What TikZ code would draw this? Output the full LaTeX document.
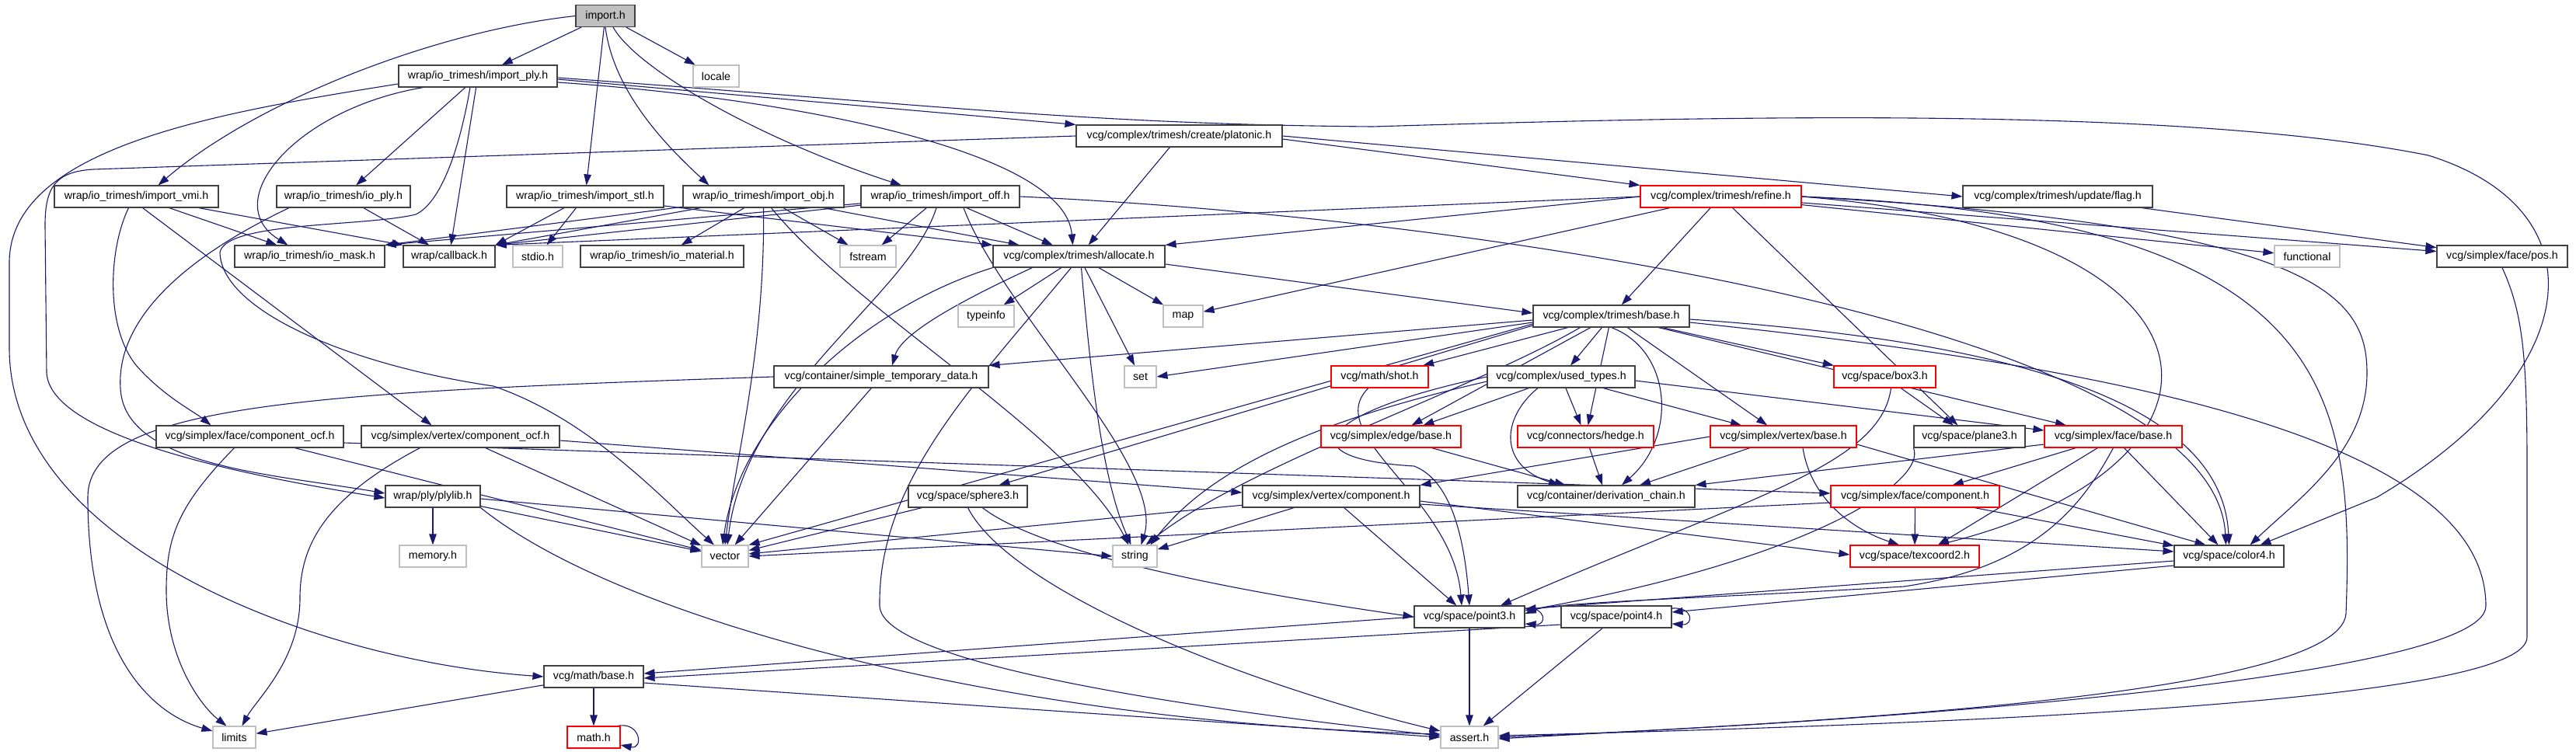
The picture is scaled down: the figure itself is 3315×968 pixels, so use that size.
\documentclass[tikz,border=0pt]{standalone}
\usepackage{fontspec}
\setmainfont{Liberation Sans}
\usetikzlibrary{arrows.meta,backgrounds}
\definecolor{edgec}{HTML}{191970}
\definecolor{gbord}{HTML}{BFBFBF}
\newcommand\nfs{\fontsize{14.2pt}{16pt}\selectfont}
\begin{document}
\begin{tikzpicture}[x=1pt,y=-1pt,
  box/.style={draw=black!75, line width=1.1pt, fill=white, minimum height=28pt, inner sep=0pt, font=\nfs, anchor=center},
  rbox/.style={box, draw=red},
  gbox/.style={box, draw=gbord},
  e/.style={draw=edgec, line width=1.1pt, -{Triangle[length=14pt,width=9.5pt]}}]
\useasboundingbox (0,0) rectangle (3315,968);
% nodes
\node[box,fill=gbord,minimum width=76pt] (imp) at (779,20.5) {import.h};
\node[box,minimum width=204pt] (iply) at (615,98) {wrap/io\_trimesh/import\_ply.h};
\node[gbox,minimum width=59pt] (locale) at (921.5,98) {locale};
\node[box,minimum width=265pt] (platonic) at (1517.5,175) {vcg/complex/trimesh/create/platonic.h};
\node[box,minimum width=211pt] (vmi) at (175.5,253) {wrap/io\_trimesh/import\_vmi.h};
\node[box,minimum width=172pt] (ioply) at (442,253) {wrap/io\_trimesh/io\_ply.h};
\node[box,minimum width=202pt] (stl) at (753,253) {wrap/io\_trimesh/import\_stl.h};
\node[box,minimum width=207pt] (obj) at (982.5,253) {wrap/io\_trimesh/import\_obj.h};
\node[box,minimum width=204pt] (off) at (1210,253) {wrap/io\_trimesh/import\_off.h};
\node[rbox,minimum width=207pt] (refine) at (2214.5,253) {vcg/complex/trimesh/refine.h};
\node[box,minimum width=244pt] (flag) at (2648,253) {vcg/complex/trimesh/update/flag.h};
\node[box,minimum width=193pt] (iomask) at (398.5,330) {wrap/io\_trimesh/io\_mask.h};
\node[box,minimum width=118pt] (callback) at (578,330) {wrap/callback.h};
\node[gbox,minimum width=64pt] (stdio) at (692,330) {stdio.h};
\node[box,minimum width=210pt] (iomat) at (852,330) {wrap/io\_trimesh/io\_material.h};
\node[gbox,minimum width=72pt] (fstream) at (1117,330) {fstream};
\node[box,minimum width=221pt] (alloc) at (1388.5,330) {vcg/complex/trimesh/allocate.h};
\node[gbox,minimum width=84pt] (functional) at (2969,330) {functional};
\node[box,minimum width=168pt] (pos) at (3220,330) {vcg/simplex/face/pos.h};
\node[gbox,minimum width=72pt] (typeinfo) at (1269,407) {typeinfo};
\node[gbox,minimum width=51pt] (map) at (1522.5,407) {map};
\node[box,minimum width=201pt] (tbase) at (2073.5,407) {vcg/complex/trimesh/base.h};
\node[box,minimum width=276pt] (std) at (1134,485) {vcg/container/simple\_temporary\_data.h};
\node[gbox,minimum width=41pt] (set) at (1467.5,485) {set};
\node[rbox,minimum width=125pt] (shot) at (1775.5,485) {vcg/math/shot.h};
\node[box,minimum width=190pt] (used) at (2009,485) {vcg/complex/used\_types.h};
\node[rbox,minimum width=131pt] (box3) at (2425.5,485) {vcg/space/box3.h};
\node[box,minimum width=241pt] (fcocf) at (321.5,562) {vcg/simplex/face/component\_ocf.h};
\node[box,minimum width=255pt] (vcocf) at (592.5,562) {vcg/simplex/vertex/component\_ocf.h};
\node[rbox,minimum width=180pt] (ebase) at (1790,562) {vcg/simplex/edge/base.h};
\node[rbox,minimum width=175pt] (hedge) at (2040.5,562) {vcg/connectors/hedge.h};
\node[rbox,minimum width=188pt] (vbase) at (2295,562) {vcg/simplex/vertex/base.h};
\node[box,minimum width=143pt] (plane3) at (2534.5,562) {vcg/space/plane3.h};
\node[rbox,minimum width=177pt] (fbase) at (2719.5,562) {vcg/simplex/face/base.h};
\node[box,minimum width=122pt] (plylib) at (557,639) {wrap/ply/plylib.h};
\node[box,minimum width=153pt] (sphere3) at (1245.5,639) {vcg/space/sphere3.h};
\node[box,minimum width=228pt] (vcomp) at (1713,639) {vcg/simplex/vertex/component.h};
\node[box,minimum width=228pt] (dchain) at (2067,639) {vcg/container/derivation\_chain.h};
\node[rbox,minimum width=217pt] (fcomp) at (2464.5,639) {vcg/simplex/face/component.h};
\node[gbox,minimum width=86pt] (memory) at (557,716) {memory.h};
\node[gbox,minimum width=60pt] (vector) at (933,716) {vector};
\node[gbox,minimum width=57pt] (string) at (1460.5,716) {string};
\node[rbox,minimum width=166pt] (texcoord) at (2464,716) {vcg/space/texcoord2.h};
\node[box,minimum width=141pt] (color4) at (2868.5,716) {vcg/space/color4.h};
\node[box,minimum width=142pt] (point3) at (1891,794) {vcg/space/point3.h};
\node[box,minimum width=142pt] (point4) at (2080,794) {vcg/space/point4.h};
\node[box,minimum width=128pt] (mbase) at (764,871) {vcg/math/base.h};
\node[gbox,minimum width=55pt] (limits) at (301.5,949) {limits};
\node[rbox,minimum width=68pt] (mathh) at (764,949) {math.h};
\node[gbox,minimum width=74pt] (assert) at (1891,949) {assert.h};
\begin{pgfonlayer}{background}
\fill[white] (0,0) rectangle (3315,968);
% import.h
\draw[e] (imp) -- (iply);
\draw[e] (imp.west) .. controls (560,40) and (330,130) .. ([xshift=28pt]vmi.north);
\draw[e] (imp) -- (locale);
\draw[e] (imp) -- (stl);
\draw[e] (imp.south) .. controls (790,120) and (860,190) .. ([xshift=-70pt]obj.north);
\draw[e] ([xshift=10pt]imp.south) .. controls (820,90) and (980,180) .. ([xshift=-50pt]off.north);
% import_ply
\draw[e] (iply) -- (ioply);
\draw[e] ([xshift=-70pt]iply.south) .. controls (380,140) and (280,260) .. ([xshift=-28pt]iomask.north);
\draw[e] (iply) -- (callback);
\draw[e] ([xshift=-10pt]iply.south) .. controls (590,200) and (565,262) .. (535,276) .. controls (470,292) and (290,285) .. (283,325) .. controls (285,400) and (450,470) .. (635,497) .. controls (760,540) and (850,640) .. ([xshift=-14pt]vector.north);
\draw[e] ([yshift=-4pt]iply.east) -- (platonic.north west);
\draw[e] ([yshift=-8pt]iply.east) .. controls (1000,125) and (1370,190) .. ([xshift=-8pt]alloc.north);
\draw[e] ([yshift=-2pt]iply.east) .. controls (1200,135) and (1400,160) .. (1766,163) .. controls (2200,150) and (2800,135) .. (3125,200) .. controls (3350,270) and (3330,480) .. (3059,640) -- ([xshift=40pt]color4.north);
\draw[e] ([yshift=-10pt]iply.west) .. controls (280,145) and (10,190) .. (12,340) -- (12,450) .. controls (14,700) and (400,850) .. (mbase.west);
% import_vmi
\draw[e] (vmi) -- (iomask);
\draw[e] (vmi) -- (callback.north west);
\draw[e] ([xshift=-10pt]vmi.south) .. controls (140,320) and (135,420) .. (175,470) .. controls (210,510) and (250,530) .. ([xshift=-50pt]fcocf.north);
\draw[e] ([xshift=8pt]vmi.south) -- ([xshift=-37pt]vcocf.north);
% io_ply
\draw[e] (ioply) -- (callback);
\draw[e] ([xshift=-70pt]ioply.south) .. controls (220,340) and (150,420) .. (155,500) .. controls (160,600) and (350,610) .. ([yshift=4pt]plylib.west);
% import_stl
\draw[e] (stl) -- (callback.north east);
\draw[e] (stl) -- (stdio);
\draw[e] (stl) -- (alloc.north west);
% import_obj
\draw[e] (obj) -- (callback.north east);
\draw[e] (obj) -- (iomask.north east);
\draw[e] (obj) -- (iomat);
\draw[e] (obj) -- (fstream);
\draw[e] (obj) -- (alloc);
\draw[e] (obj.south) .. controls (985,450) and (945,600) .. (vector.north);
\draw[e] ([xshift=10pt]obj.south) .. controls (1100,400) and (1380,560) .. ([xshift=-8pt]string.north);
% import_off
\draw[e] (off) -- (callback.north east);
\draw[e] (off) -- (iomask.north east);
\draw[e] (off) -- (fstream);
\draw[e] (off) -- (alloc);
\draw[e] ([xshift=-5pt]off.south) .. controls (1170,380) and (960,500) .. ([xshift=3pt]vector.north);
\draw[e] ([xshift=30pt]off.south) .. controls (1290,400) and (1500,600) .. ([xshift=8pt]string.north);
\draw[e] (off.east) .. controls (1900,280) and (2850,420) .. ([xshift=-4pt]color4.north);
% platonic
\draw[e] (platonic) -- (alloc);
\draw[e] ([yshift=-4pt]platonic.east) -- (refine.north west);
\draw[e] (platonic.east) -- (flag.west);
\draw[e] (platonic.west) -- (120,218) .. controls (72,221) and (58,240) .. (58,290) -- (60,480) .. controls (65,560) and (300,610) .. ([yshift=-2pt]plylib.west);
% refine
\draw[e] (refine.west) -- (callback.north east);
\draw[e] (refine.west) -- (alloc.north east);
\draw[e] (refine) -- (map);
\draw[e] (refine) -- (tbase);
\draw[e] (refine) -- (functional);
\draw[e] (refine) -- (pos);
\draw[e] (refine) -- (plane3);
\draw[e] (refine.east) .. controls (2980,290) and (3046,380) .. (3046,480) .. controls (3046,580) and (2960,640) .. ([xshift=27pt]color4.north);
\draw[e] (refine.east) .. controls (3000,280) and (3030,500) .. (3019,790) .. controls (3010,900) and (2300,930) .. ([yshift=-2pt]assert.east);
\draw[e] (refine.east) .. controls (2900,300) and (2900,600) .. ([xshift=30pt]texcoord.north);
% flag
\draw[e] (flag) -- (pos);
% allocate
\draw[e] (alloc) -- (typeinfo);
\draw[e] (alloc) -- (map);
\draw[e] ([yshift=-10pt]alloc.east) -- ([yshift=4pt]tbase.west);
\draw[e] ([xshift=-60pt]alloc.south) .. controls (1230,390) and (1160,430) .. ([xshift=14pt]std.north);
\draw[e] (alloc) -- (set);
\draw[e] (alloc.south west) .. controls (1100,400) and (950,550) .. ([xshift=-3pt]vector.north);
\draw[e] ([xshift=3pt]alloc.south) .. controls (1405,500) and (1420,620) .. ([xshift=-5pt]string.north);
\draw[e] ([xshift=-10pt]alloc.south) .. controls (1250,500) and (1130,620) .. (1132,780) .. controls (1135,860) and (1600,920) .. ([yshift=2pt]assert.west);
% trimesh/base
\draw[e] ([yshift=-5pt]tbase.west) -- (std.north east);
\draw[e] ([yshift=-8pt]tbase.west) -- (set.east);
\draw[e] (tbase) -- (shot);
\draw[e] (tbase) -- (used);
\draw[e] (tbase) -- (box3);
\draw[e] (tbase) -- (ebase);
\draw[e] (tbase) -- (hedge);
\draw[e] (tbase) -- (vbase);
\draw[e] (tbase) -- (fbase);
\draw[e] (tbase.south) .. controls (2150,450) and (2160,560) .. ([xshift=20pt]dchain.north);
\draw[e] ([yshift=-10pt]tbase.west) -- (vector.north east);
\draw[e] ([xshift=-40pt]tbase.south) .. controls (1900,500) and (1600,600) .. ([xshift=14pt]string.north);
\draw[e] ([yshift=-12pt]tbase.west) -- ([xshift=40pt]sphere3.north);
\draw[e] ([yshift=-4pt]tbase.east) .. controls (2600,440) and (2860,520) .. (color4.north);
\draw[e] ([yshift=-8pt]tbase.east) .. controls (2700,470) and (3199,560) .. (3199,780) .. controls (3199,880) and (2300,935) .. (assert.east);
% used_types
\draw[e] (used) -- (ebase);
\draw[e] (used) -- (hedge);
\draw[e] (used) -- (vbase);
\draw[e] ([yshift=-5pt]used.east) -- ([yshift=8pt]fbase.west);
\draw[e] ([xshift=-30pt]used.south) .. controls (1930,540) and (1930,600) .. ([xshift=-60pt]dchain.north);
\draw[e] (used.west) .. controls (1700,530) and (1650,590) .. (1820,600) .. controls (1870,620) and (1885,700) .. (point3.north);
\draw[e] ([yshift=-6pt]used.west) .. controls (1700,540) and (1560,600) .. ([xshift=20pt]string.north);
% shot, box3
\draw[e] (shot) .. controls (1700,560) and (1870,640) .. ([xshift=-10pt]point3.north);
\draw[e] (box3) -- (plane3);
\draw[e] ([xshift=8pt]box3.south) .. controls (2420,600) and (2250,640) .. ([xshift=40pt]point3.north);
% edge/hedge/vertex base
\draw[e] (ebase) -- (dchain);
\draw[e] (hedge) -- (dchain);
\draw[e] (vbase) -- (dchain);
\draw[e] (vbase.west) -- (vcomp.north east);
\draw[e] ([xshift=25pt]vbase.south) .. controls (2330,640) and (2380,680) .. ([xshift=-20pt]texcoord.north);
\draw[e] ([yshift=-10pt]vbase.east) -- ([xshift=-30pt]color4.north);
% plane3
\draw[e] (plane3.south west) .. controls (2480,620) and (2330,720) .. ([yshift=8pt]point3.east);
% face/base
\draw[e] ([yshift=-10pt]fbase.west) -- (dchain.north east);
\draw[e] (fbase) -- (fcomp);
\draw[e] ([xshift=-20pt]fbase.south) -- ([xshift=30pt]texcoord.north);
\draw[e] (fbase.south) .. controls (2680,650) and (2620,730) .. (2450,755) .. controls (2200,770) and (2000,775) .. ([yshift=4pt]point3.east);
\draw[e] (fbase) -- (color4);
% component_ocf
\draw[e] ([yshift=-8pt]fcocf.east) -- ([yshift=4pt]fcomp.west);
\draw[e] (fcocf) -- (vector);
\draw[e] ([xshift=-20pt]fcocf.south) .. controls (230,650) and (214,690) .. (214,760) .. controls (214,850) and (260,910) .. ([xshift=-10pt]limits.north);
\draw[e] ([yshift=-5pt]vcocf.east) -- ([yshift=5pt]vcomp.west);
\draw[e] (vcocf) -- (vector);
\draw[e] ([xshift=-52pt]vcocf.south) .. controls (420,640) and (386,700) .. (386,770) .. controls (386,850) and (330,900) .. ([xshift=10pt]limits.north);
% plylib
\draw[e] (plylib) -- (memory);
\draw[e] (plylib) -- (vector);
\draw[e] ([yshift=-3pt]plylib.east) -- (string.west);
\draw[e] (plylib.south east) .. controls (800,800) and (1300,930) .. ([yshift=4pt]assert.west);
% sphere3
\draw[e] (sphere3) -- (vector);
\draw[e] (sphere3) .. controls (1350,720) and (1650,770) .. (point3.west);
\draw[e] (sphere3.south) .. controls (1300,760) and (1600,880) .. ([yshift=8pt]assert.west);
% vertex/component
\draw[e] (vcomp) -- (vector);
\draw[e] (vcomp) -- (string);
\draw[e] (vcomp) -- (point3);
\draw[e] ([yshift=-6pt]vcomp.east) -- ([yshift=2pt]texcoord.west);
\draw[e] ([yshift=-10pt]vcomp.east) -- ([yshift=6pt]color4.west);
% face/component
\draw[e] (fcomp) -- (texcoord);
\draw[e] (fcomp) -- (color4);
\draw[e] ([yshift=-8pt]fcomp.west) -- (vector.east);
% color4
\draw[e] ([yshift=-6pt]color4.west) -- ([yshift=10pt]point3.east);
\draw[e] ([yshift=-12pt]color4.west) -- ([yshift=6pt]point4.east);
% point3 / point4
\draw[e] ([yshift=11pt]point3.east) .. controls +(28,-2) and +(28,2) .. ([yshift=-9pt]point3.east);
\draw[e] ([yshift=11pt]point4.east) .. controls +(28,-2) and +(28,2) .. ([yshift=-9pt]point4.east);
\draw[e] (point3.west) -- ([yshift=4pt]mbase.east);
\draw[e] (point3) -- (assert);
\draw[e] ([yshift=-10pt]point4.west) -- ([yshift=-2pt]mbase.east);
\draw[e] (point4) -- (assert);
% math/base
\draw[e] (mbase) -- (limits);
\draw[e] (mbase) -- (mathh);
\draw[e] ([yshift=-8pt]mbase.east) -- (assert.west);
\draw[e] ([xshift=-4pt]mathh.north east) .. controls +(30,-6) and +(30,6) .. ([yshift=-10pt]mathh.east);
% simple_temporary_data
\draw[e] (std.west) .. controls (400,505) and (113,520) .. (113,640) .. controls (113,850) and (200,920) .. ([yshift=8pt]limits.west);
\draw[e] (std) -- (vector);
% pos
\draw[e] (pos.south) .. controls (3245,400) and (3252,450) .. (3252,600) -- (3252,820) .. controls (3252,900) and (2600,930) .. ([yshift=2pt]assert.east);
\end{pgfonlayer}
\end{tikzpicture}
\end{document}
